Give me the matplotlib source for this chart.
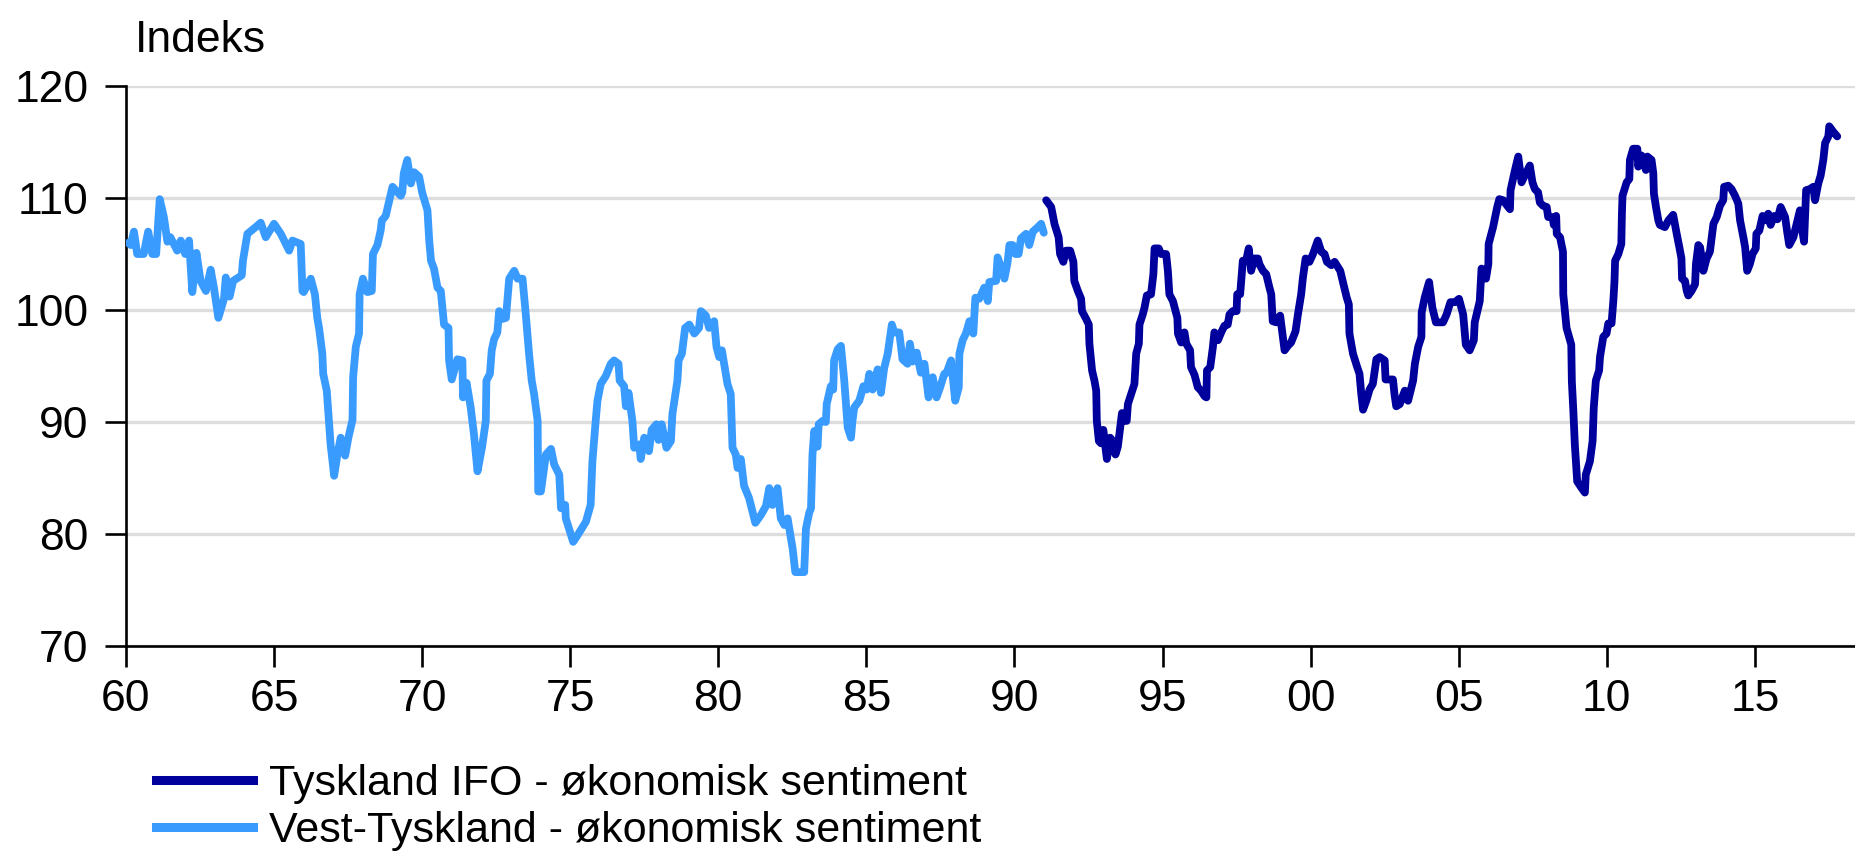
import matplotlib
matplotlib.use("Agg")
import matplotlib.pyplot as plt
from matplotlib.lines import Line2D
from matplotlib.ticker import FixedLocator, FuncFormatter

plt.rcParams["font.family"] = ["Liberation Sans", "DejaVu Sans"]

# Vest-Tyskland, 1960-1990 (decimal years, index)
west_years = [
    1960.08, 1960.16, 1960.27, 1960.38, 1960.60, 1960.75, 1960.89, 1961.02, 1961.14, 1961.28,
    1961.40, 1961.50, 1961.73, 1961.85, 1962.00, 1962.13, 1962.24, 1962.38, 1962.52, 1962.70,
    1962.86, 1962.97, 1963.12, 1963.31, 1963.37, 1963.50, 1963.62, 1963.91, 1963.95, 1964.10,
    1964.38, 1964.55, 1964.72, 1965.00, 1965.23, 1965.51, 1965.62, 1965.90, 1965.96, 1966.00,
    1966.24, 1966.38, 1966.46, 1966.52, 1966.63, 1966.66, 1966.78, 1966.91, 1967.03, 1967.14,
    1967.25, 1967.40, 1967.51, 1967.65, 1967.67, 1967.76, 1967.87, 1967.89, 1968.00, 1968.15,
    1968.30, 1968.34, 1968.49, 1968.60, 1968.64, 1968.77, 1969.00, 1969.28, 1969.33, 1969.38,
    1969.50, 1969.62, 1969.73, 1969.90, 1970.00, 1970.18, 1970.24, 1970.30, 1970.40, 1970.52,
    1970.63, 1970.74, 1970.89, 1970.91, 1971.00, 1971.19, 1971.36, 1971.38, 1971.50, 1971.64,
    1971.75, 1971.87, 1972.02, 1972.15, 1972.17, 1972.29, 1972.35, 1972.43, 1972.54, 1972.60,
    1972.71, 1972.83, 1972.94, 1973.11, 1973.22, 1973.39, 1973.50, 1973.61, 1973.70, 1973.78,
    1973.90, 1973.92, 1974.01, 1974.18, 1974.35, 1974.46, 1974.63, 1974.69, 1974.83, 1974.85,
    1975.10, 1975.25, 1975.53, 1975.69, 1975.75, 1975.86, 1975.92, 1976.03, 1976.20, 1976.37,
    1976.48, 1976.63, 1976.67, 1976.82, 1976.88, 1976.97, 1977.10, 1977.16, 1977.33, 1977.38,
    1977.50, 1977.66, 1977.75, 1977.91, 1977.98, 1978.09, 1978.25, 1978.40, 1978.45, 1978.62,
    1978.66, 1978.77, 1978.88, 1979.02, 1979.19, 1979.35, 1979.41, 1979.58, 1979.69, 1979.86,
    1979.94, 1980.03, 1980.12, 1980.31, 1980.42, 1980.48, 1980.59, 1980.65, 1980.76, 1980.87,
    1981.04, 1981.25, 1981.44, 1981.61, 1981.72, 1981.83, 1982.00, 1982.11, 1982.23, 1982.34,
    1982.51, 1982.60, 1982.90, 1982.96, 1983.07, 1983.13, 1983.18, 1983.24, 1983.35, 1983.39,
    1983.52, 1983.63, 1983.66, 1983.80, 1983.88, 1983.91, 1984.03, 1984.14, 1984.25, 1984.37,
    1984.48, 1984.53, 1984.59, 1984.76, 1984.87, 1984.90, 1985.01, 1985.10, 1985.21, 1985.38,
    1985.49, 1985.60, 1985.72, 1985.86, 1985.94, 1986.11, 1986.22, 1986.39, 1986.47, 1986.56,
    1986.70, 1986.84, 1986.96, 1987.03, 1987.10, 1987.24, 1987.37, 1987.49, 1987.63, 1987.71,
    1987.86, 1988.00, 1988.12, 1988.14, 1988.25, 1988.36, 1988.48, 1988.61, 1988.68, 1988.81,
    1988.98, 1989.10, 1989.15, 1989.38, 1989.43, 1989.55, 1989.66, 1989.77, 1989.83, 1989.94,
    1990.03, 1990.14, 1990.22, 1990.39, 1990.50, 1990.62, 1990.79, 1990.90, 1990.99,
]
west_vals = [
    106.0, 105.8, 107.0, 105.0, 105.0, 107.0, 105.0, 105.0, 109.9, 108.3,
    106.1, 106.5, 105.3, 106.2, 105.0, 106.2, 101.6, 105.1, 102.6, 101.7,
    103.6, 102.0, 99.3, 101.0, 102.9, 101.2, 102.6, 103.1, 104.4, 106.8,
    107.4, 107.8, 106.5, 107.7, 106.8, 105.3, 106.2, 105.9, 101.7, 101.6,
    102.8, 101.4, 99.3, 98.4, 96.1, 94.3, 92.8, 88.0, 85.2, 87.1,
    88.6, 87.0, 88.6, 90.2, 94.0, 96.7, 97.9, 101.4, 102.8, 101.6,
    101.7, 105.0, 105.8, 107.1, 108.0, 108.4, 111.0, 110.2, 110.5, 112.2,
    113.4, 111.3, 112.3, 111.9, 110.5, 108.9, 106.2, 104.4, 103.7, 102.0,
    101.7, 98.7, 98.4, 95.5, 93.8, 95.6, 95.5, 92.2, 93.5, 91.3,
    88.9, 85.6, 87.7, 90.1, 93.7, 94.3, 96.4, 97.4, 98.0, 99.9,
    99.2, 99.3, 102.8, 103.5, 102.8, 102.8, 99.6, 96.1, 93.7, 92.5,
    90.1, 83.8, 83.8, 87.1, 87.6, 86.2, 85.3, 82.3, 82.6, 81.4,
    79.3, 79.9, 81.1, 82.6, 86.5, 90.1, 91.9, 93.4, 94.1, 95.2,
    95.5, 95.2, 93.7, 93.2, 91.4, 92.6, 90.1, 87.7, 88.0, 86.7,
    88.6, 87.4, 89.3, 89.8, 88.4, 89.8, 87.7, 88.3, 90.7, 93.7,
    95.5, 96.1, 98.4, 98.7, 97.9, 98.4, 99.9, 99.5, 98.4, 99.0,
    96.7, 95.8, 96.4, 93.4, 92.5, 87.7, 87.1, 85.9, 86.7, 84.3,
    83.2, 81.0, 81.7, 82.5, 84.1, 82.6, 84.1, 81.4, 80.8, 81.4,
    78.7, 76.6, 76.6, 80.5, 81.9, 82.3, 87.1, 89.2, 87.8, 89.8,
    90.1, 90.0, 91.6, 93.2, 92.9, 95.5, 96.5, 96.8, 93.8, 89.5,
    88.6, 90.1, 91.3, 91.9, 92.9, 93.2, 92.9, 94.3, 92.9, 94.7,
    92.6, 94.8, 96.1, 98.7, 98.0, 98.0, 95.6, 95.2, 97.0, 95.4,
    96.2, 94.4, 95.2, 93.7, 92.2, 94.0, 92.2, 93.1, 94.3, 94.4,
    95.5, 91.9, 93.1, 96.1, 97.3, 97.9, 99.0, 97.9, 101.1, 101.0,
    102.0, 100.8, 102.5, 102.6, 104.7, 103.8, 102.8, 104.3, 105.8, 105.8,
    105.0, 105.0, 106.4, 106.8, 105.8, 107.0, 107.4, 107.7, 106.9,
]

# Tyskland IFO, 1991-2017
ifo_years = [
    1991.07, 1991.24, 1991.35, 1991.49, 1991.54, 1991.65, 1991.74, 1991.88, 1991.99, 1992.02,
    1992.14, 1992.25, 1992.28, 1992.42, 1992.51, 1992.53, 1992.62, 1992.70, 1992.76, 1992.78,
    1992.85, 1992.92, 1993.00, 1993.07, 1993.12, 1993.23, 1993.32, 1993.41, 1993.49, 1993.57,
    1993.63, 1993.71, 1993.79, 1993.83, 1993.94, 1994.05, 1994.11, 1994.20, 1994.22, 1994.33,
    1994.39, 1994.47, 1994.61, 1994.69, 1994.73, 1994.87, 1994.95, 1995.12, 1995.18, 1995.23,
    1995.35, 1995.44, 1995.50, 1995.52, 1995.63, 1995.74, 1995.80, 1995.93, 1995.96, 1996.08,
    1996.19, 1996.30, 1996.42, 1996.48, 1996.50, 1996.61, 1996.70, 1996.75, 1996.87, 1996.98,
    1997.09, 1997.20, 1997.26, 1997.37, 1997.50, 1997.52, 1997.62, 1997.71, 1997.82, 1997.91,
    1997.99, 1998.10, 1998.22, 1998.27, 1998.39, 1998.50, 1998.61, 1998.67, 1998.72, 1998.84,
    1998.97, 1999.06, 1999.12, 1999.23, 1999.34, 1999.49, 1999.57, 1999.68, 1999.74, 1999.83,
    1999.96, 2000.08, 2000.16, 2000.24, 2000.36, 2000.47, 2000.55, 2000.70, 2000.81, 2001.00,
    2001.09, 2001.22, 2001.29, 2001.31, 2001.43, 2001.56, 2001.65, 2001.71, 2001.77, 2001.88,
    2001.99, 2002.10, 2002.22, 2002.33, 2002.50, 2002.53, 2002.67, 2002.78, 2002.83, 2002.89,
    2003.01, 2003.18, 2003.29, 2003.46, 2003.52, 2003.63, 2003.74, 2003.75, 2003.85, 2004.00,
    2004.11, 2004.23, 2004.47, 2004.59, 2004.72, 2004.87, 2005.01, 2005.15, 2005.24, 2005.37,
    2005.51, 2005.54, 2005.71, 2005.77, 2005.92, 2006.00, 2006.01, 2006.16, 2006.30, 2006.37,
    2006.50, 2006.64, 2006.73, 2006.75, 2006.90, 2007.01, 2007.12, 2007.23, 2007.40, 2007.49,
    2007.57, 2007.68, 2007.74, 2007.85, 2007.97, 2008.02, 2008.17, 2008.21, 2008.29, 2008.31,
    2008.42, 2008.52, 2008.53, 2008.64, 2008.80, 2008.82, 2008.87, 2008.92, 2009.00, 2009.15,
    2009.26, 2009.29, 2009.43, 2009.52, 2009.56, 2009.63, 2009.74, 2009.77, 2009.88, 2009.99,
    2010.05, 2010.16, 2010.22, 2010.26, 2010.28, 2010.39, 2010.49, 2010.51, 2010.53, 2010.67,
    2010.76, 2010.78, 2010.89, 2011.03, 2011.06, 2011.17, 2011.23, 2011.32, 2011.37, 2011.51,
    2011.57, 2011.59, 2011.66, 2011.74, 2011.79, 2011.96, 2012.08, 2012.24, 2012.36, 2012.45,
    2012.52, 2012.54, 2012.64, 2012.70, 2012.75, 2012.86, 2012.98, 2013.01, 2013.09, 2013.15,
    2013.20, 2013.26, 2013.37, 2013.48, 2013.60, 2013.71, 2013.82, 2013.93, 2013.96, 2014.10,
    2014.21, 2014.33, 2014.44, 2014.50, 2014.61, 2014.67, 2014.74, 2014.83, 2014.92, 2015.03,
    2015.05, 2015.15, 2015.26, 2015.40, 2015.45, 2015.53, 2015.65, 2015.76, 2015.87, 2016.02,
    2016.10, 2016.16, 2016.30, 2016.41, 2016.52, 2016.58, 2016.66, 2016.73, 2016.86, 2016.97,
    2017.03, 2017.14, 2017.22, 2017.31, 2017.37, 2017.48, 2017.51, 2017.65, 2017.78,
]
ifo_vals = [
    109.8, 109.2, 107.7, 106.5, 105.0, 104.3, 105.3, 105.3, 104.3, 102.6,
    101.7, 101.0, 99.9, 99.2, 98.7, 97.0, 94.6, 93.7, 92.8, 90.1,
    88.3, 88.1, 89.3, 87.8, 86.7, 88.6, 88.3, 87.1, 87.8, 89.5,
    90.8, 90.1, 90.1, 91.6, 92.5, 93.4, 96.1, 97.0, 98.7, 99.6,
    100.2, 101.3, 101.4, 103.2, 105.5, 105.5, 105.0, 105.0, 103.5, 101.4,
    100.8, 99.9, 99.3, 97.9, 97.1, 98.0, 97.0, 96.4, 94.9, 94.2,
    93.1, 92.8, 92.3, 92.2, 94.6, 94.9, 96.7, 98.0, 97.3, 98.0,
    98.6, 98.7, 99.6, 99.9, 99.9, 101.4, 101.4, 104.4, 104.4, 105.5,
    103.5, 104.6, 104.6, 104.1, 103.5, 103.2, 102.0, 101.4, 99.0, 98.9,
    99.5, 97.6, 96.4, 96.8, 97.1, 98.1, 99.6, 101.4, 102.9, 104.6,
    104.3, 105.0, 105.6, 106.2, 105.2, 105.0, 104.3, 104.0, 104.3, 103.5,
    102.5, 101.1, 100.5, 97.9, 96.1, 95.0, 94.3, 92.5, 91.1, 91.9,
    92.9, 93.4, 95.6, 95.8, 95.5, 93.8, 93.8, 93.8, 92.5, 91.4,
    91.6, 92.8, 91.9, 93.7, 95.2, 96.7, 97.6, 99.8, 101.1, 102.5,
    100.2, 98.9, 98.9, 99.6, 100.7, 100.7, 101.0, 99.6, 96.9, 96.4,
    97.3, 98.9, 100.8, 103.7, 102.8, 104.1, 105.9, 107.4, 109.2, 109.9,
    109.8, 109.3, 109.0, 110.7, 112.5, 113.7, 111.4, 112.0, 112.9, 111.4,
    110.8, 110.5, 109.6, 109.3, 109.2, 108.3, 108.3, 107.6, 108.4, 106.8,
    106.5, 105.2, 101.4, 98.4, 96.9, 93.6, 91.0, 88.0, 84.7, 84.1,
    83.7, 85.3, 86.5, 88.3, 91.3, 93.7, 94.6, 95.8, 97.6, 97.9,
    98.8, 98.8, 100.8, 102.6, 104.4, 105.0, 105.9, 108.6, 110.2, 111.4,
    111.7, 113.4, 114.4, 114.4, 112.8, 113.8, 113.4, 112.5, 113.7, 113.4,
    112.2, 110.4, 109.2, 108.0, 107.6, 107.4, 108.0, 108.5, 106.8, 105.6,
    104.6, 102.8, 102.6, 101.7, 101.3, 101.7, 102.3, 104.1, 105.8, 105.6,
    104.7, 103.5, 104.6, 105.2, 107.7, 108.3, 109.3, 109.8, 111.0, 111.1,
    110.8, 110.2, 109.5, 108.0, 106.5, 105.6, 103.5, 104.1, 105.0, 105.5,
    106.8, 107.1, 108.4, 108.0, 108.6, 107.6, 108.4, 108.1, 109.2, 108.3,
    106.8, 105.8, 106.5, 107.7, 108.9, 107.4, 106.1, 110.7, 110.8, 111.0,
    109.8, 111.3, 112.0, 113.4, 114.9, 115.5, 116.4, 115.9, 115.5,
]

x_ticks = [1960, 1965, 1970, 1975, 1980, 1985, 1990, 1995, 2000, 2005, 2010, 2015]
y_ticks = [70, 80, 90, 100, 110, 120]
labels = ["Tyskland IFO - økonomisk sentiment", "Vest-Tyskland - økonomisk sentiment"]

dark = "#00009C"
light = "#3A9BFF"
fs = 32

fig = plt.figure(figsize=(18.55, 8.6), dpi=100)
ax = fig.add_axes([0.0679, 0.2488, 0.9321, 0.6512])

ax.plot(west_years, west_vals, color=light, lw=5.6, solid_joinstyle="round",
        solid_capstyle="round", zorder=3)
ax.plot(ifo_years, ifo_vals, color=dark, lw=5.6, solid_joinstyle="round",
        solid_capstyle="round", zorder=3)

ax.set_xlim(1960, 2018.38)
ax.set_ylim(70, 120)
ax.xaxis.set_major_locator(FixedLocator(x_ticks))
ax.yaxis.set_major_locator(FixedLocator(y_ticks))
ax.xaxis.set_major_formatter(FuncFormatter(lambda v, p: f"{int(round(v)) % 100:02d}"))
ax.yaxis.set_major_formatter(FuncFormatter(lambda v, p: f"{int(v)}"))

ax.grid(axis="y", color="#DDDDDD", lw=2.4, zorder=0)
ax.set_axisbelow(True)
ax.spines["top"].set_visible(False)
ax.spines["right"].set_visible(False)
ax.spines["left"].set_linewidth(1.9)
ax.spines["bottom"].set_linewidth(1.9)
ax.tick_params(axis="both", direction="out", length=15, width=1.9, labelsize=fs, color="black")
ax.tick_params(axis="y", pad=12)
ax.tick_params(axis="x", pad=9)

fig.text(0.0728, 0.9395, "Indeks", fontsize=fs, ha="left", va="baseline")

handles = [Line2D([], [], color=dark, lw=6.5), Line2D([], [], color=light, lw=6.5)]
fig.legend(handles, labels, loc="upper left", bbox_to_anchor=(0.0841, 0.112),
           frameon=False, fontsize=31, handlelength=2.25, handletextpad=0.37,
           labelspacing=0.18, borderpad=0, borderaxespad=0)

fig.savefig("out.png", dpi=100)
